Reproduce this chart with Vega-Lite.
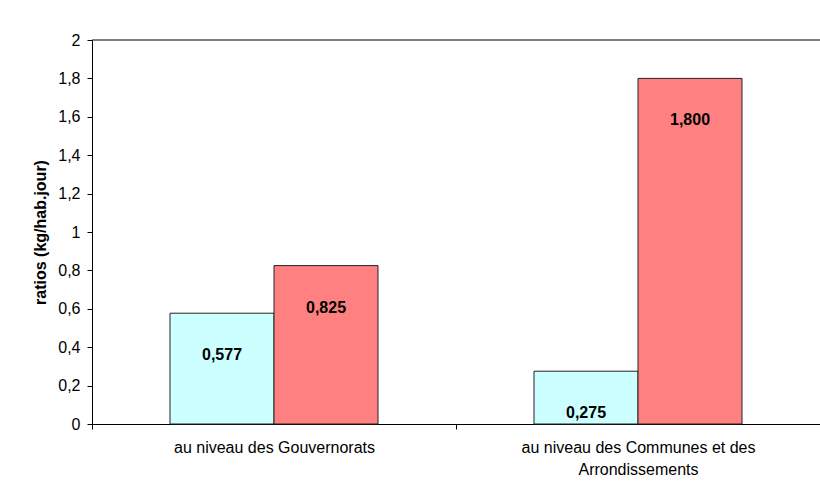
{
  "$schema": "https://vega.github.io/schema/vega-lite/v6.json",
  "width": 728,
  "height": 384,
  "autosize": "none",
  "padding": {"left": 92, "top": 40, "right": 0, "bottom": 64},
  "background": "white",
  "config": {
    "font": "Liberation Sans",
    "view": {"stroke": null},
    "axis": {"domainColor": "black", "tickColor": "black", "labelColor": "black", "titleColor": "black", "grid": false}
  },
  "data": {
    "values": [
      {"niveau": "au niveau des Gouvernorats", "serie": "A", "ratio": 0.577, "texte": "0,577"},
      {"niveau": "au niveau des Gouvernorats", "serie": "B", "ratio": 0.825, "texte": "0,825"},
      {"niveau": "au niveau des Communes et des Arrondissements", "serie": "A", "ratio": 0.275, "texte": "0,275"},
      {"niveau": "au niveau des Communes et des Arrondissements", "serie": "B", "ratio": 1.8, "texte": "1,800"}
    ]
  },
  "encoding": {
    "x": {
      "field": "niveau",
      "type": "nominal",
      "sort": ["au niveau des Gouvernorats", "au niveau des Communes et des Arrondissements"],
      "scale": {"paddingInner": 0, "paddingOuter": 0},
      "axis": {
        "title": null,
        "labelAngle": 0,
        "labelLimit": 0,
        "tickBand": "extent",
        "tickSize": 5,
        "labelPadding": 10,
        "labelFontSize": 16,
        "labelLineHeight": 22,
        "labelBaseline": "top",
        "labelExpr": "datum.value == 'au niveau des Communes et des Arrondissements' ? ['au niveau des Communes et des', 'Arrondissements'] : datum.label"
      }
    },
    "xOffset": {
      "field": "serie",
      "type": "nominal",
      "scale": {"paddingInner": 0, "paddingOuter": 0.75}
    },
    "y": {
      "field": "ratio",
      "type": "quantitative",
      "scale": {"domain": [0, 2], "nice": false},
      "axis": {
        "title": "ratios (kg/hab.jour)",
        "titleFontSize": 16,
        "titleFontWeight": "bold",
        "titlePadding": 9,
        "values": [0, 0.2, 0.4, 0.6, 0.8, 1, 1.2, 1.4, 1.6, 1.8, 2],
        "labelExpr": "replace(format(datum.value, '.1~f'), '.', ',')",
        "labelOverlap": false,
        "labelFlush": false,
        "labelFontSize": 16,
        "tickSize": 5,
        "labelPadding": 7
      }
    }
  },
  "layer": [
    {
      "mark": {"type": "bar", "stroke": "#222222", "strokeWidth": 1},
      "encoding": {
        "color": {
          "field": "serie",
          "type": "nominal",
          "scale": {"domain": ["A", "B"], "range": ["#CCFFFF", "#FF8080"]},
          "legend": null
        }
      }
    },
    {
      "mark": {"type": "text", "fontWeight": "bold", "fontSize": 16, "baseline": "middle", "dy": 42, "color": "black"},
      "encoding": {
        "text": {"field": "texte"}
      }
    },
    {
      "data": {"values": [{"haut": 2}]},
      "mark": {"type": "rule", "color": "black", "strokeWidth": 1},
      "encoding": {
        "x": null,
        "xOffset": null,
        "y": {"field": "haut", "type": "quantitative"}
      }
    }
  ]
}
